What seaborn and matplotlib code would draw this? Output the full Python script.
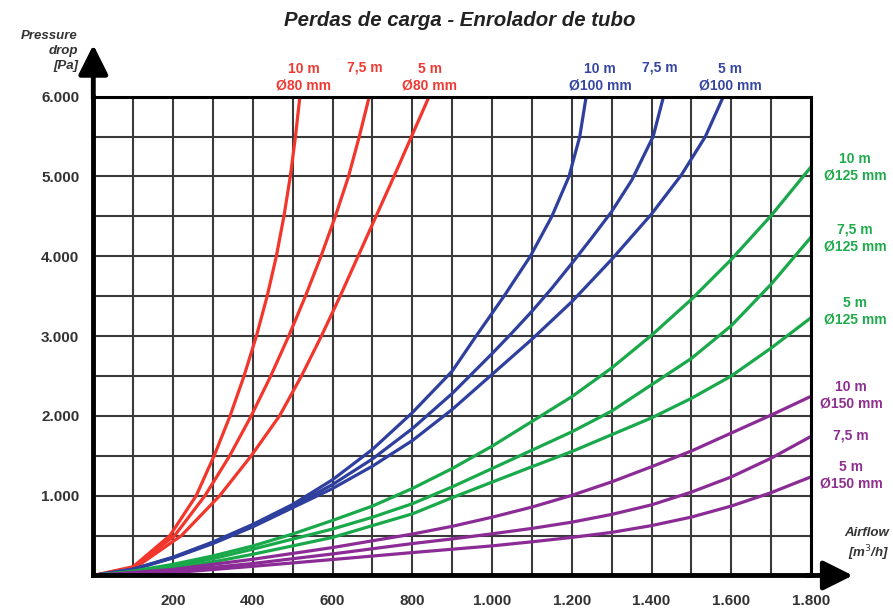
import matplotlib
matplotlib.use("Agg")
import matplotlib.pyplot as plt
import matplotlib.ticker as mticker
import seaborn as sns
import pandas as pd

# caudal (m3/h) e perda de carga (Pa)
q_80_10 = [0, 100, 192, 258, 303, 343, 378, 409, 436, 459, 478, 494, 507, 518]
p_80_10 = [0, 110, 500, 1000, 1500, 2000, 2500, 3000, 3500, 4000, 4500, 5000, 5500, 6000]
q_80_75 = [0, 100, 204, 280, 342, 396, 445, 490, 532, 571, 607, 640, 667, 692]
p_80_75 = [0, 100, 500, 1000, 1500, 2000, 2500, 3000, 3500, 4000, 4500, 5000, 5500, 6000]
q_80_5 = [0, 100, 221, 317, 396, 467, 522, 572, 619, 664, 709, 754, 798, 842]
p_80_5 = [0, 80, 500, 1000, 1500, 2000, 2500, 3000, 3500, 4000, 4500, 5000, 5500, 6000]

q_100_10 = [0, 100, 200, 300, 400, 500, 600, 700, 800, 900, 960, 1030, 1096, 1150, 1193, 1220, 1236]
p_100_10 = [0, 80, 230, 420, 640, 890, 1200, 1580, 2040, 2560, 3000, 3500, 4000, 4500, 5000, 5500, 6000]
q_100_75 = [0, 100, 200, 300, 400, 500, 600, 700, 800, 900, 1000, 1050, 1100, 1150, 1200, 1250, 1300, 1350, 1404, 1430]
p_100_75 = [0, 78, 225, 410, 625, 870, 1140, 1460, 1840, 2280, 2780, 3040, 3310, 3600, 3910, 4230, 4560, 4950, 5500, 6000]
q_100_5 = [0, 100, 200, 300, 400, 500, 600, 700, 800, 900, 1000, 1100, 1200, 1300, 1400, 1475, 1535, 1580]
p_100_5 = [0, 75, 220, 400, 610, 850, 1090, 1370, 1690, 2080, 2520, 2960, 3430, 3960, 4530, 5020, 5500, 6000]

q_passo = [0, 100, 200, 300, 400, 500, 600, 700, 800, 900, 1000, 1100, 1200, 1300, 1400, 1500, 1600, 1700, 1800]
p_125_10 = [0, 55, 140, 245, 370, 520, 690, 870, 1090, 1340, 1620, 1930, 2240, 2600, 3010, 3460, 3960, 4510, 5120]
p_125_75 = [0, 46, 118, 211, 330, 456, 582, 730, 899, 1110, 1340, 1570, 1800, 2060, 2390, 2720, 3130, 3650, 4240]
p_125_5 = [0, 34, 97, 169, 266, 371, 477, 625, 772, 975, 1170, 1363, 1553, 1764, 1975, 2220, 2500, 2850, 3230]

q_150 = [0, 200, 400, 600, 800, 900, 1000, 1100, 1200, 1300, 1400, 1500, 1600, 1700, 1800]
p_150_10 = [0, 76, 203, 350, 519, 616, 730, 857, 1004, 1173, 1363, 1560, 1785, 2010, 2245]
p_150_75 = [0, 55, 150, 270, 400, 458, 522, 590, 668, 765, 885, 1045, 1235, 1470, 1743]
p_150_5 = [0, 34, 115, 200, 287, 329, 371, 422, 477, 540, 625, 732, 870, 1038, 1236]

curvas = [
    ("80_10", q_80_10, p_80_10), ("80_75", q_80_75, p_80_75), ("80_5", q_80_5, p_80_5),
    ("100_10", q_100_10, p_100_10), ("100_75", q_100_75, p_100_75), ("100_5", q_100_5, p_100_5),
    ("125_10", q_passo, p_125_10), ("125_75", q_passo, p_125_75), ("125_5", q_passo, p_125_5),
    ("150_10", q_150, p_150_10), ("150_75", q_150, p_150_75), ("150_5", q_150, p_150_5),
]

cor_80 = "#f2362b"
cor_100 = "#2e3f9e"
cor_125 = "#19a84a"
cor_150 = "#8b2b95"
cores = {}
for nome, _, _ in curvas:
    d = nome.split("_")[0]
    cores[nome] = {"80": cor_80, "100": cor_100, "125": cor_125, "150": cor_150}[d]

linhas = []
for nome, q, p in curvas:
    for a, b in zip(q, p):
        linhas.append({"curva": nome, "caudal": a, "perda": b})
df = pd.DataFrame(linhas)

sns.set_style("white")
plt.rcParams["font.family"] = ["Liberation Sans", "DejaVu Sans"]

fig = plt.figure(figsize=(8.93, 6.13), dpi=100)
ax = fig.add_axes([0.1045, 0.0612, 0.8037, 0.7811])

sns.lineplot(data=df, x="caudal", y="perda", hue="curva", palette=cores,
             estimator=None, sort=False, legend=False, linewidth=2.3,
             solid_joinstyle="round", solid_capstyle="round", ax=ax)

ax.set_xlim(0, 1800)
ax.set_ylim(0, 6000)
ax.xaxis.set_major_locator(mticker.MultipleLocator(100))
ax.yaxis.set_major_locator(mticker.MultipleLocator(500))


def fmt_x(v, pos):
    v = int(round(v))
    if v == 0 or v % 200:
        return ""
    return f"{v:,}".replace(",", ".")


def fmt_y(v, pos):
    v = int(round(v))
    if v == 0 or v % 1000:
        return ""
    return f"{v:,}".replace(",", ".")


ax.xaxis.set_major_formatter(mticker.FuncFormatter(fmt_x))
ax.yaxis.set_major_formatter(mticker.FuncFormatter(fmt_y))
ax.set_axisbelow(True)
ax.grid(True, color="#3a3a3a", linewidth=1.5)
ax.tick_params(axis="both", length=7, width=1.8, color="#222222", labelcolor="#333333",
               labelsize=11)
ax.tick_params(axis="y", pad=3)
ax.tick_params(axis="x", pad=6)
for t in ax.get_xticklabels() + ax.get_yticklabels():
    t.set_fontweight("bold")
ax.set_xlabel("")
ax.set_ylabel("")

for lado in ["left", "bottom"]:
    ax.spines[lado].set_linewidth(3.5)
    ax.spines[lado].set_color("black")
for lado in ["top", "right"]:
    ax.spines[lado].set_linewidth(2.2)
    ax.spines[lado].set_color("black")

# setas dos eixos
ax.annotate("", xy=(0, 1.114), xytext=(0, 0.99), xycoords="axes fraction",
            arrowprops=dict(arrowstyle="-|>", color="black", lw=3.5, mutation_scale=45),
            annotation_clip=False)
ax.annotate("", xy=(1.062, 0), xytext=(0.99, 0), xycoords="axes fraction",
            arrowprops=dict(arrowstyle="-|>", color="black", lw=3.5, mutation_scale=45),
            annotation_clip=False)

W, H = 893, 613


def txt(x, y, s, **kw):
    fig.text(x / W, 1 - y / H, s, **kw)


txt(460, 20, "Perdas de carga - Enrolador de tubo", ha="center", va="center",
    fontsize=14.7, fontweight="bold", fontstyle="italic", color="#222222")
txt(78, 51, "Pressure\ndrop\n[Pa]", ha="right", va="center", fontsize=9.5,
    fontweight="bold", fontstyle="italic", color="#333333", linespacing=1.3,
    multialignment="right")
txt(889, 545, "Airflow\n[m$^3$/h]", ha="right", va="center", fontsize=9.5,
    fontweight="bold", fontstyle="italic", color="#333333", linespacing=1.3,
    multialignment="right")

rot = dict(ha="center", va="center", fontsize=10, fontweight="bold",
           linespacing=1.25, multialignment="center")
txt(304, 77, "10 m\nØ80 mm", color="#ee3a33", **rot)
txt(365, 68, "7,5 m", color="#ee3a33", **rot)
txt(430, 77, "5 m\nØ80 mm", color="#ee3a33", **rot)
txt(600, 77, "10 m\nØ100 mm", color="#3446a0", **rot)
txt(660, 68, "7,5 m", color="#3446a0", **rot)
txt(730, 77, "5 m\nØ100 mm", color="#3446a0", **rot)
txt(855, 167, "10 m\nØ125 mm", color="#1eab4b", **rot)
txt(855, 238, "7,5 m\nØ125 mm", color="#1eab4b", **rot)
txt(855, 311, "5 m\nØ125 mm", color="#1eab4b", **rot)
txt(851, 395, "10 m\nØ150 mm", color="#8e2e90", **rot)
txt(851, 435, "7,5 m", color="#8e2e90", **rot)
txt(851, 475, "5 m\nØ150 mm", color="#8e2e90", **rot)

fig.savefig("out.png", dpi=100)
